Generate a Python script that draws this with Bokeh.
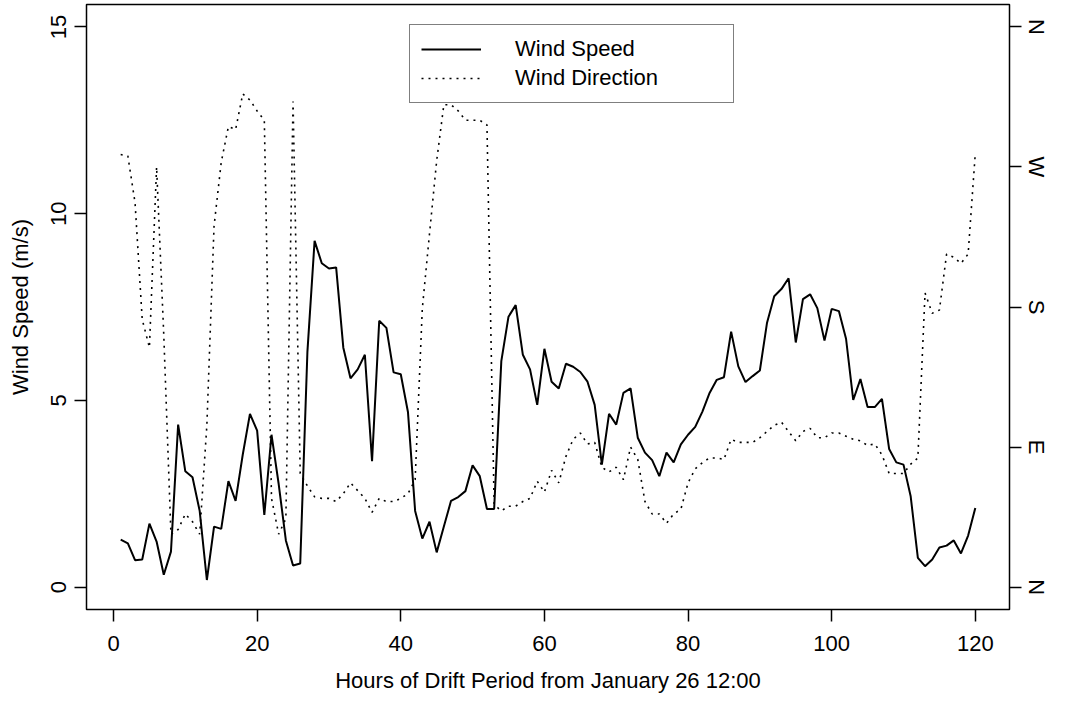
from bokeh.plotting import figure
from bokeh.models import Range1d, LinearAxis, FixedTicker, Legend, LegendItem
from bokeh.embed import file_html
from bokeh.resources import INLINE

hours = list(range(1, 121))

wind_speed = [
    1.27, 1.17, 0.72, 0.74, 1.70, 1.22, 0.33, 0.95, 4.35, 3.10,
    2.94, 2.04, 0.19, 1.62, 1.56, 2.84, 2.31, 3.55, 4.64, 4.19,
    1.93, 4.08, 2.76, 1.25, 0.58, 0.63, 6.30, 9.27, 8.67, 8.53,
    8.56, 6.41, 5.59, 5.83, 6.22, 3.37, 7.13, 6.94, 5.75, 5.70,
    4.69, 2.04, 1.30, 1.75, 0.93, 1.62, 2.31, 2.41, 2.57, 3.26,
    2.97, 2.09, 2.09, 6.05, 7.24, 7.55, 6.22, 5.83, 4.88, 6.38,
    5.50, 5.32, 5.98, 5.90, 5.76, 5.50, 4.88, 3.28, 4.64, 4.35,
    5.20, 5.32, 4.00, 3.60, 3.40, 2.97, 3.60, 3.34, 3.82, 4.08,
    4.29, 4.70, 5.20, 5.55, 5.62, 6.84, 5.91, 5.49, 5.65, 5.80,
    7.08, 7.79, 7.98, 8.27, 6.55, 7.71, 7.84, 7.47, 6.60, 7.45,
    7.39, 6.65, 5.01, 5.57, 4.82, 4.82, 5.04, 3.70, 3.34, 3.28,
    2.43, 0.78, 0.56, 0.74, 1.06, 1.11, 1.25, 0.90, 1.38, 2.12,
]

wind_direction = [
    278, 277, 247, 172, 154, 270, 162, 34, 37, 47,
    42, 34, 104, 232, 273, 296, 294, 317, 313, 306,
    300, 57, 34, 44, 312, 73, 65, 58, 57, 57,
    55, 60, 67, 62, 57, 48, 57, 55, 55, 57,
    60, 69, 179, 227, 274, 310, 310, 306, 300, 300,
    300, 297, 53, 49, 52, 52, 55, 57, 68, 61,
    75, 67, 84, 95, 99, 92, 93, 77, 74, 77,
    69, 90, 82, 55, 47, 47, 41, 47, 50, 67,
    76, 80, 83, 83, 82, 95, 93, 93, 93, 96,
    100, 104, 106, 100, 94, 100, 102, 96, 96, 99,
    99, 97, 95, 94, 91, 92, 85, 73, 73, 73,
    79, 83, 189, 176, 178, 214, 212, 208, 214, 279,
]

x_ticks = [0, 20, 40, 60, 80, 100, 120]
y_ticks = [0, 5, 10, 15]
dir_ticks = [0, 90, 180, 270, 360]
dir_labels = ["N", "E", "S", "W", "N"]

FONT = "Liberation Sans"
FS = "22px"

p = figure(width=1051, height=699, output_backend="svg", toolbar_location=None,
           x_range=Range1d(-3.76, 124.76), y_range=Range1d(-0.6, 15.6),
           min_border_left=86, min_border_right=39, min_border_top=4, min_border_bottom=90)
p.extra_y_ranges = {"dir": Range1d(-14.4, 374.4)}

p.grid.visible = False
p.outline_line_color = "black"
p.outline_line_width = 1.5
p.background_fill_color = "white"
p.border_fill_color = "white"

r_speed = p.line(hours, wind_speed, line_color="black", line_width=2)
r_dir = p.line(hours, wind_direction, y_range_name="dir", line_color="black",
               line_width=1.6, line_dash="2 5")

def style_axis(ax):
    ax.axis_line_color = None
    ax.major_tick_line_color = "black"
    ax.major_tick_line_width = 1.5
    ax.major_tick_out = 12
    ax.major_tick_in = 0
    ax.minor_tick_line_color = None
    ax.major_label_text_font = FONT
    ax.major_label_text_font_size = FS
    ax.major_label_text_color = "black"
    ax.axis_label_text_font = FONT
    ax.axis_label_text_font_size = FS
    ax.axis_label_text_font_style = "normal"
    ax.axis_label_text_color = "black"

xa = p.xaxis[0]
style_axis(xa)
xa.ticker = FixedTicker(ticks=x_ticks)
xa.axis_label = "Hours of Drift Period from January 26 12:00"
xa.major_label_standoff = 14
xa.axis_label_standoff = 14

ya = p.yaxis[0]
style_axis(ya)
ya.ticker = FixedTicker(ticks=y_ticks)
ya.axis_label = "Wind Speed (m/s)"
ya.major_label_orientation = "vertical"
ya.major_label_standoff = 8
ya.axis_label_standoff = 16

ra = LinearAxis(y_range_name="dir")
style_axis(ra)
ra.ticker = FixedTicker(ticks=dir_ticks)
ra.major_label_overrides = {t: l for t, l in zip(dir_ticks, dir_labels)}
ra.major_label_orientation = "vertical"
ra.major_label_standoff = 2
p.add_layout(ra, "right")

legend = Legend(items=[LegendItem(label="Wind Speed", renderers=[r_speed]),
                       LegendItem(label="Wind Direction", renderers=[r_dir])],
                location=(323, 506))
legend.border_line_color = "black"
legend.border_line_width = 1.5
legend.background_fill_color = "white"
legend.background_fill_alpha = 1
legend.label_text_font = FONT
legend.label_text_font_size = FS
legend.label_text_color = "black"
legend.glyph_width = 60
legend.glyph_height = 20
legend.label_standoff = 34
legend.label_width = 207
legend.padding = 11
legend.spacing = 3
legend.margin = 0
p.add_layout(legend, "center")

open("out.html", "w").write(file_html(p, INLINE))
